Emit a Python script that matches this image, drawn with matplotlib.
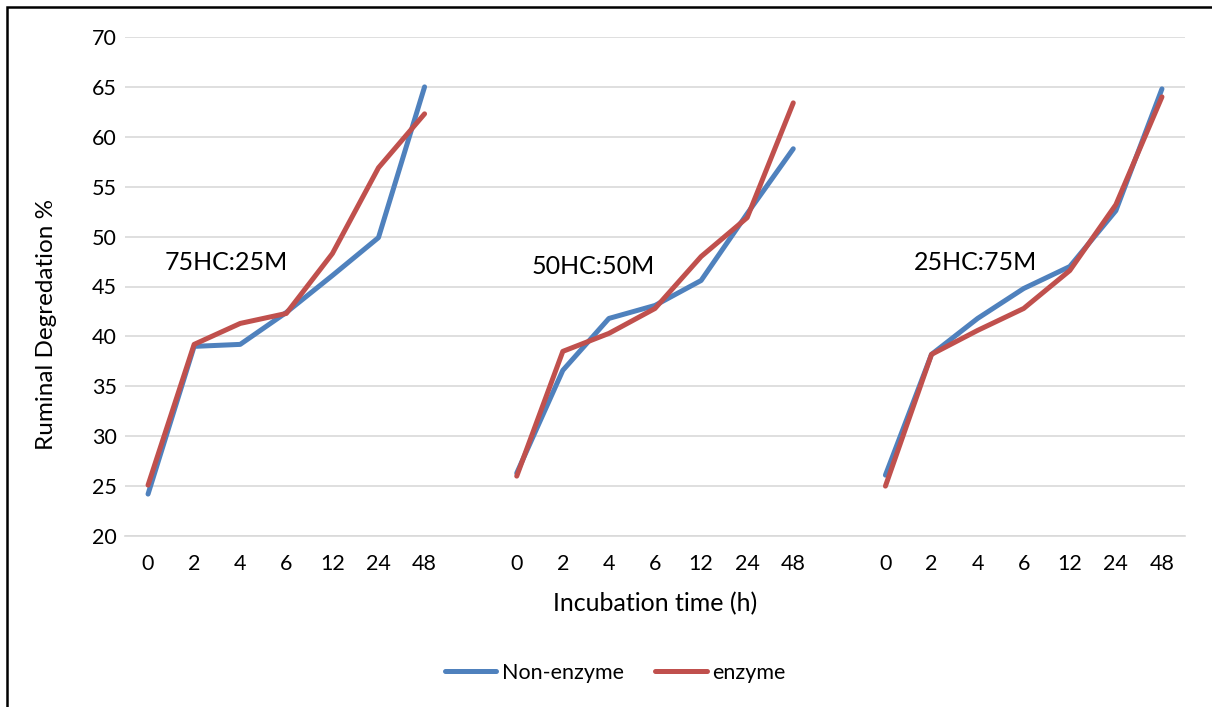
import numpy as np
import matplotlib.pyplot as plt
from matplotlib.patches import Rectangle

plt.rcParams['font.family'] = ['Lato', 'DejaVu Sans']

times = ['0', '2', '4', '6', '12', '24', '48']
groups = ['75HC:25M', '50HC:50M', '25HC:75M']
non_enzyme = [
    [24.2, 39.0, 39.2, 42.4, 46.1, 49.9, 65.0],
    [26.3, 36.6, 41.8, 43.1, 45.6, 52.3, 58.8],
    [26.1, 38.2, 41.8, 44.8, 47.0, 52.6, 64.8],
]
enzyme = [
    [25.1, 39.2, 41.3, 42.3, 48.3, 56.9, 62.3],
    [26.0, 38.5, 40.3, 42.8, 48.0, 51.9, 63.4],
    [25.0, 38.2, 40.6, 42.8, 46.6, 53.2, 64.0],
]

blue = '#4F81BD'
red = '#C0504D'

fig = plt.figure(figsize=(12.12, 7.07), dpi=100)
ax = fig.add_axes([125/1212, 1 - 536/707, 1060/1212, 499/707])

n = len(times)
step = n + 1
xticks, xlabels = [], []
for g in range(len(groups)):
    x = np.arange(n) + g * step
    ax.plot(x, non_enzyme[g], color=blue, lw=3.6, solid_capstyle='round',
            solid_joinstyle='round', label='Non-enzyme' if g == 0 else None, zorder=3)
    ax.plot(x, enzyme[g], color=red, lw=3.6, solid_capstyle='round',
            solid_joinstyle='round', label='enzyme' if g == 0 else None, zorder=4)
    xticks += list(x)
    xlabels += times
    ax.text(g * step + [0.37, 0.33, 0.61][g], [47.4, 47.0, 47.4][g], groups[g],
            fontsize=18, ha='left', va='center', color='black')

ax.set_xlim(-0.5, len(groups) * step - 1 - 0.5)
ax.set_ylim(20, 70)
ax.set_yticks(range(20, 71, 5))
ax.set_xticks(xticks)
ax.set_xticklabels(xlabels)
ax.tick_params(axis='both', length=0, labelsize=15.5, colors='black')
ax.tick_params(axis='x', pad=13)
ax.tick_params(axis='y', pad=6)
ax.grid(axis='y', color='#D9D9D9', lw=1.2)
ax.set_axisbelow(True)
for s in ['top', 'right', 'left']:
    ax.spines[s].set_visible(False)
ax.spines['bottom'].set_color('#D9D9D9')
ax.spines['bottom'].set_linewidth(1.2)

ax.set_ylabel('Ruminal Degredation %', fontsize=17.5, va='center')
ax.yaxis.set_label_coords(-78/1060, 212/499)
ax.set_xlabel('Incubation time (h)', fontsize=18, va='center')
ax.xaxis.set_label_coords(0.5, -68/499)

fig.legend(loc='center', bbox_to_anchor=(615/1212, 1 - 673/707), ncol=2,
           frameon=False, fontsize=15.5, handlelength=2.4, handletextpad=0.25,
           columnspacing=1.45)

fig.patches.append(Rectangle((7/1212, -0.1), 1.2, 1 - 7/707 + 0.1,
                             transform=fig.transFigure, fill=False,
                             edgecolor='black', lw=1.8))

fig.savefig('out.png', dpi=100)
